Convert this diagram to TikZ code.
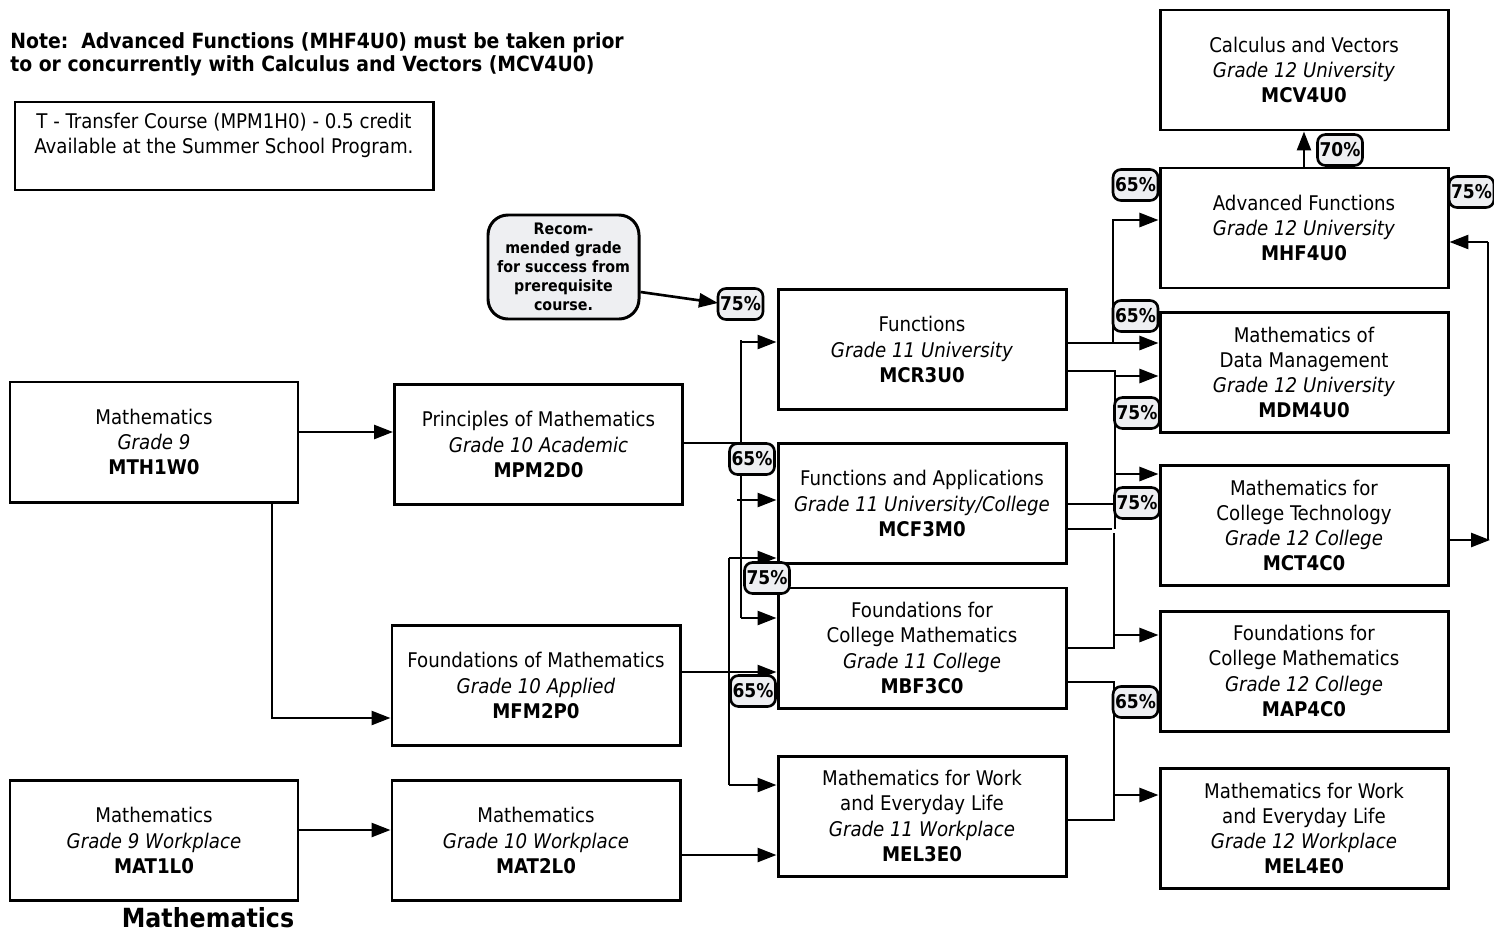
\documentclass[tikz,border=0pt]{standalone}
\usepackage{fontspec}
\setmainfont{DejaVu Sans Condensed}
\usetikzlibrary{arrows.meta}
\definecolor{badgefill}{RGB}{238,239,242}

\begin{document}
\begin{tikzpicture}[scale=0.2]
\tikzstyle{every node}+=[inner sep=0pt]
\tikzstyle{course}=[draw=black, line width=1.7pt, minimum width=5.76cm, minimum height=2.4cm, align=center, font=\fontsize{11.5}{14.3}\selectfont]
\tikzstyle{grade}=[draw=black, line width=1.5pt, fill=badgefill, rounded corners=0.16cm, minimum width=0.9cm, minimum height=0.62cm, font=\bfseries\fontsize{10.8}{12}\selectfont]
\tikzstyle{bubble}=[draw=black, line width=1.7pt, fill=badgefill, rounded corners=0.4cm, minimum width=3.02cm, minimum height=2.08cm, align=center, font=\bfseries\fontsize{9}{10.8}\selectfont]
\tikzstyle{wire}=[black, line width=1.5pt]
\tikzstyle{link}=[wire, -{Triangle[length=0.38cm,width=0.28cm]}]
\useasboundingbox (0,0) rectangle (149.4,-93.2);
% notes
\node [anchor=north west, align=left, font=\bfseries\fontsize{11.9}{13.2}\selectfont] (note) at (1.0,-3.2) {Note:\ \ Advanced Functions (MHF4U0) must be taken prior\\to or concurrently with Calculus and Vectors (MCV4U0)};
\node [draw=black, line width=1.7pt, minimum width=8.36cm, minimum height=1.76cm, align=center, font=\fontsize{11.5}{14.3}\selectfont] (transfer) at (22.4,-14.6) {T - Transfer Course (MPM1H0) - 0.5 credit\\Available at the Summer School Program.\\\mbox{}};
\node [anchor=base, font=\bfseries\fontsize{15}{18}\selectfont] (title) at (20.8,-92.7) {Mathematics};
% grade 12
\node [course] (mcv4u0) at (130.4,-7.0) {Calculus and Vectors\\\textit{Grade 12 University}\\\textbf{MCV4U0}};
\node [course] (mhf4u0) at (130.4,-22.8) {Advanced Functions\\\textit{Grade 12 University}\\\textbf{MHF4U0}};
\node [course] (mdm4u0) at (130.4,-37.25) {Mathematics of\\Data Management\\\textit{Grade 12 University}\\\textbf{MDM4U0}};
\node [course] (mct4c0) at (130.4,-52.55) {Mathematics for\\College Technology\\\textit{Grade 12 College}\\\textbf{MCT4C0}};
\node [course] (map4c0) at (130.4,-67.1) {Foundations for\\College Mathematics\\\textit{Grade 12 College}\\\textbf{MAP4C0}};
\node [course] (mel4e0) at (130.4,-82.85) {Mathematics for Work\\and Everyday Life\\\textit{Grade 12 Workplace}\\\textbf{MEL4E0}};
% grade 11
\node [course] (mcr3u0) at (92.2,-34.95) {Functions\\\textit{Grade 11 University}\\\textbf{MCR3U0}};
\node [course] (mcf3m0) at (92.2,-50.35) {Functions and Applications\\\textit{Grade 11 University/College}\\\textbf{MCF3M0}};
\node [course] (mbf3c0) at (92.2,-64.8) {Foundations for\\College Mathematics\\\textit{Grade 11 College}\\\textbf{MBF3C0}};
\node [course] (mel3e0) at (92.2,-81.6) {Mathematics for Work\\and Everyday Life\\\textit{Grade 11 Workplace}\\\textbf{MEL3E0}};
% grade 10 and 9
\node [course] (mpm2d0) at (53.85,-44.45) {Principles of Mathematics\\\textit{Grade 10 Academic}\\\textbf{MPM2D0}};
\node [course] (mfm2p0) at (53.6,-68.55) {Foundations of Mathematics\\\textit{Grade 10 Applied}\\\textbf{MFM2P0}};
\node [course] (mat2l0) at (53.6,-84.05) {Mathematics\\\textit{Grade 10 Workplace}\\\textbf{MAT2L0}};
\node [course] (mth1w0) at (15.4,-44.2) {Mathematics\\\textit{Grade 9}\\\textbf{MTH1W0}};
\node [course] (mat1l0) at (15.4,-84.05) {Mathematics\\\textit{Grade 9 Workplace}\\\textbf{MAT1L0}};
\node [bubble] (recommend) at (56.35,-26.7) {Recom-\\mended grade\\for success from\\prerequisite\\course.};
% grade 9 to 10
\draw [link] (mth1w0.east |- 0,-43.2) -- (mpm2d0.west |- 0,-43.2);
\draw [link] (mth1w0.south -| 27.2,0) -- (27.2,-71.8) -- (mfm2p0.west |- 0,-71.8);
\draw [link] (mat1l0.east |- 0,-83.0) -- (mat2l0.west |- 0,-83.0);
% grade 10 to 11
\draw [link] (mat2l0.east |- 0,-85.5) -- (mel3e0.west |- 0,-85.5);
\draw [wire] (mpm2d0.east |- 0,-44.3) -- (75.0,-44.3);
\draw [wire] (74.1,-34.0) -- (74.1,-61.8);
\draw [link] (74.1,-34.2) -- (mcr3u0.west |- 0,-34.2);
\draw [link] (73.7,-50.0) -- (mcf3m0.west |- 0,-50.0);
\draw [link] (74.1,-61.8) -- (mbf3c0.west |- 0,-61.8);
\draw [link] (mfm2p0.east |- 0,-67.2) -- (mbf3c0.west |- 0,-67.2);
\draw [wire] (72.9,-55.8) -- (72.9,-78.5);
\draw [link] (72.9,-55.8) -- (mcf3m0.west |- 0,-55.8);
\draw [link] (72.9,-78.5) -- (mel3e0.west |- 0,-78.5);
% grade 11 to 12
\draw [link] (mcr3u0.east |- 0,-34.3) -- (mdm4u0.west |- 0,-34.3);
\draw [link] (111.3,-34.3) -- (111.3,-22.0) -- (mhf4u0.west |- 0,-22.0);
\draw [wire] (mcr3u0.east |- 0,-37.1) -- (111.5,-37.1) -- (111.5,-52.9);
\draw [link] (111.5,-37.6) -- (mdm4u0.west |- 0,-37.6);
\draw [link] (111.5,-47.4) -- (mct4c0.west |- 0,-47.4);
\draw [wire] (mcf3m0.east |- 0,-50.4) -- (111.4,-50.4);
\draw [wire] (mcf3m0.east |- 0,-52.9) -- (111.2,-52.9);
\draw [wire] (111.4,-53.3) -- (111.4,-64.8) -- (mbf3c0.east |- 0,-64.8);
\draw [link] (111.4,-63.5) -- (map4c0.west |- 0,-63.5);
\draw [wire] (mbf3c0.east |- 0,-68.2) -- (111.4,-68.2) -- (111.4,-82.0) -- (mel3e0.east |- 0,-82.0);
\draw [link] (111.4,-79.5) -- (mel4e0.west |- 0,-79.5);
% grade 12
\draw [link] (mhf4u0.north) -- (mcv4u0.south);
\draw [link] (mct4c0.east |- 0,-54.0) -- (149.0,-54.0);
\draw [wire] (148.8,-54.0) -- (148.8,-24.2);
\draw [link] (148.8,-24.2) -- (mhf4u0.east |- 0,-24.2);
\draw [link] (recommend.east |- 0,-29.2) -- (71.8,-30.3);
% grades
\node [grade] (p75a) at (74.05,-30.4) {75\%};
\node [grade] (p65a) at (75.2,-45.9) {65\%};
\node [grade] (p75b) at (76.7,-57.8) {75\%};
\node [grade] (p65b) at (75.3,-69.1) {65\%};
\node [grade] (p65c) at (113.55,-18.5) {65\%};
\node [grade] (p65d) at (113.55,-31.6) {65\%};
\node [grade] (p75c) at (113.7,-41.3) {75\%};
\node [grade] (p75d) at (113.7,-50.3) {75\%};
\node [grade] (p65e) at (113.55,-70.2) {65\%};
\node [grade] (p70a) at (134.0,-15.0) {70\%};
\node [grade] (p75e) at (147.15,-19.2) {75\%};
\end{tikzpicture}
\end{document}
